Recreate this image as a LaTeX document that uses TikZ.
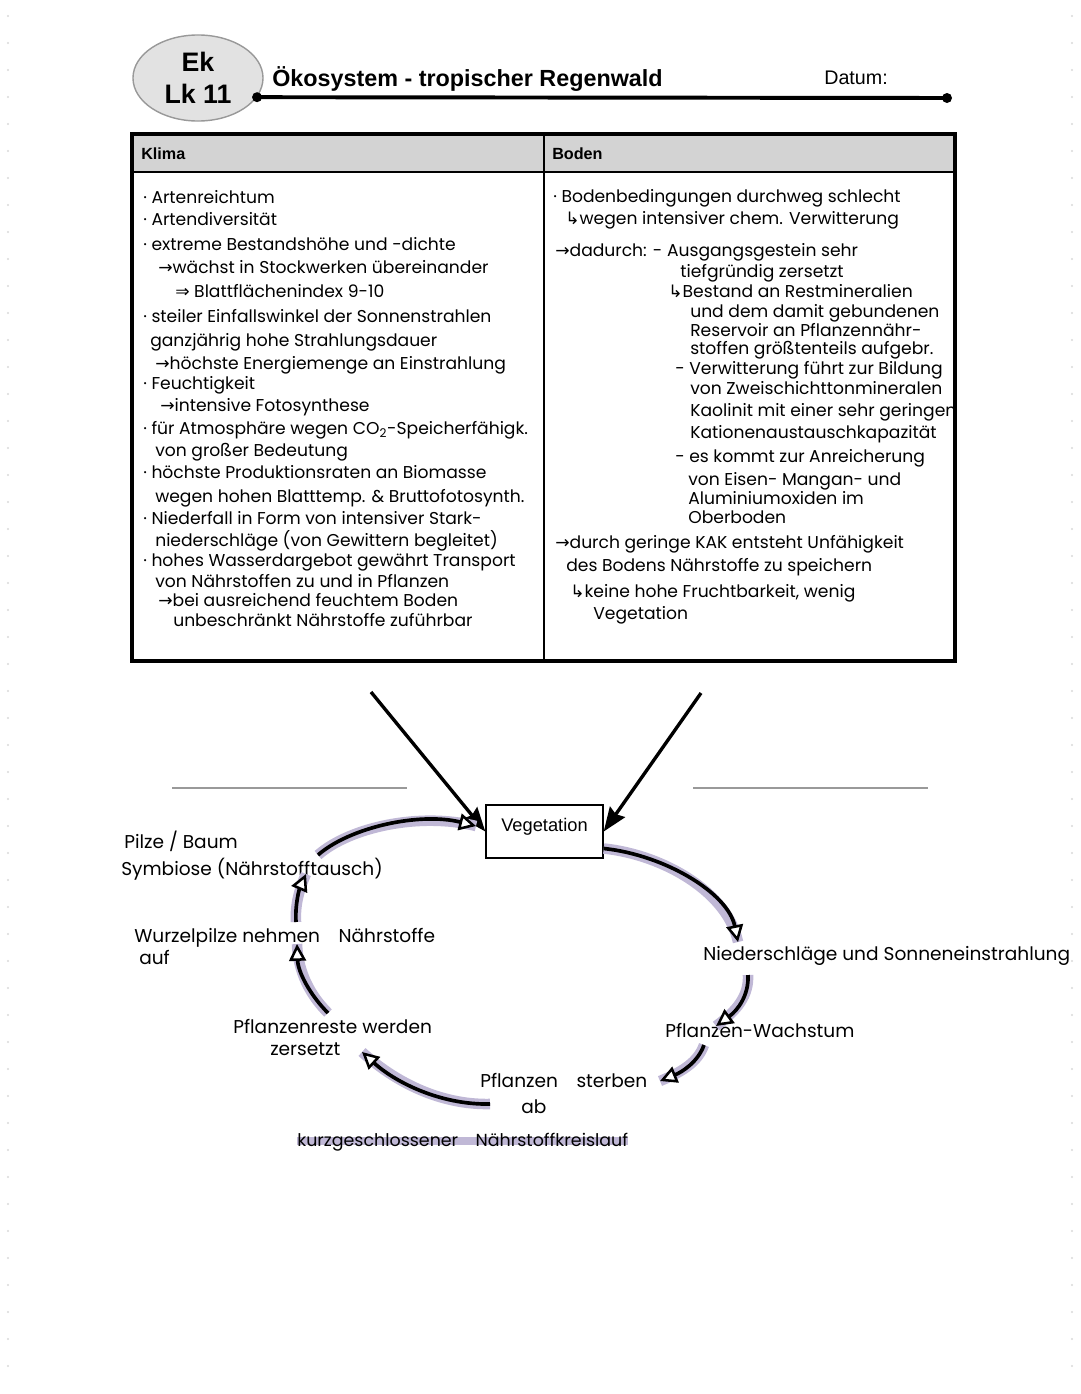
\documentclass[tikz,border=0pt]{standalone}
\usepackage{fontspec}
\setmainfont{Liberation Sans}
\newfontfamily\handfont{Poppins}
\newfontfamily\symfont{DejaVu Sans}
\usetikzlibrary{arrows.meta,shapes.geometric,backgrounds}
\newcommand{\pfeil}{{\symfont →}}
\newcommand{\haken}{{\symfont ↳}}
\newcommand{\folgt}{{\symfont ⇒}}
\definecolor{glowc}{RGB}{192,184,214}
\definecolor{kopfgrau}{RGB}{226,226,226}
\definecolor{tabgrau}{RGB}{211,211,211}
\begin{document}
\begin{tikzpicture}[x=0.025cm,y=-0.025cm,
  hand/.style={anchor=base west,inner sep=0pt,font=\handfont\fontsize{12.2}{14}\selectfont},
  zyklus/.style={anchor=base west,inner sep=0pt,font=\handfont\fontsize{13.2}{15}\selectfont},
  kreispfeil/.style={line width=2.6pt,-{Triangle[length=12pt,width=12pt,fill=white,line width=1.8pt]},preaction={draw=glowc,line width=7.5pt,-}},
  zufluss/.style={line width=2.4pt,-{Stealth[length=17pt,width=13pt,inset=2pt]}},
  leer/.style={draw=gray!80,line width=1pt}]
\useasboundingbox (0,0) rectangle (1080,1394);
\foreach \y in {16,43,...,1380} {\fill[gray!30] (8,\y) circle (1.2); \fill[gray!30] (1072,\y) circle (1.2);}

\node[ellipse,draw=gray!80,line width=1pt,fill=kopfgrau,minimum width=3.25cm,minimum height=2.15cm,inner sep=0pt,align=center,font=\bfseries\fontsize{19}{23}\selectfont] (kurs) at (198,78) {Ek\\Lk 11};
\node[anchor=base west,inner sep=0pt,font=\bfseries\fontsize{16.6}{19}\selectfont] (titel) at (272,86) {Ökosystem - tropischer Regenwald};
\node[anchor=base west,inner sep=0pt,font=\fontsize{14}{16}\selectfont] (datum) at (824,84) {Datum:};
\coordinate (linienende) at (947,98);
\draw[line width=2.8pt] (kurs.-18) -- (linienende);
\fill (kurs.-18) circle (5); \fill (linienende) circle (5);

\fill[tabgrau] (132,134) rectangle (955,172);
\draw[line width=1.5pt] (132,172) -- (955,172);
\draw[line width=2pt] (544,134) -- (544,661);
\draw[line width=2.2pt] (132,134) rectangle (955,661);
\node[anchor=west,inner sep=0pt,font=\bfseries\fontsize{11.5}{13}\selectfont] (klima) at (141,154) {Klima};
\node[anchor=west,inner sep=0pt,font=\bfseries\fontsize{11.5}{13}\selectfont] (boden) at (552,154) {Boden};

\foreach \x/\y/\t [count=\i] in {
  143/203/{· Artenreichtum},
  143/225/{· Artendiversität},
  143/250/{· extreme Bestandshöhe und -dichte},
  158/273/{\pfeil wächst in Stockwerken übereinander},
  175/297/{\folgt\ Blattflächenindex 9-10},
  143/322/{· steiler Einfallswinkel der Sonnenstrahlen},
  150/346/{ganzjährig hohe Strahlungsdauer},
  155/369/{\pfeil höchste Energiemenge an Einstrahlung},
  143/389/{· Feuchtigkeit},
  160/411/{\pfeil intensive Fotosynthese},
  143/434/{· für Atmosphäre wegen CO\textsubscript{2}-Speicherfähigk.},
  155/456/{von großer Bedeutung},
  143/478/{· höchste Produktionsraten an Biomasse},
  155/502/{wegen hohen Blatttemp. \& Bruttofotosynth.},
  143/524/{· Niederfall in Form von intensiver Stark-},
  155/546/{niederschläge (von Gewittern begleitet)},
  143/566/{· hohes Wasserdargebot gewährt Transport},
  155/587/{von Nährstoffen zu und in Pflanzen},
  158/606/{\pfeil bei ausreichend feuchtem Boden},
  173/626/{unbeschränkt Nährstoffe zuführbar}}
  \node[hand] (kl\i) at (\x,\y) {\t};

\foreach \x/\y/\t [count=\i] in {
  553/202/{· Bodenbedingungen durchweg schlecht},
  565/224/{\haken wegen intensiver chem. Verwitterung},
  555/256/{\pfeil dadurch: - Ausgangsgestein sehr},
  680/277/{tiefgründig zersetzt},
  668/297/{\haken Bestand an Restmineralien},
  690/317/{und dem damit gebundenen},
  690/336/{Reservoir an Pflanzennähr-},
  690/354/{stoffen größtenteils aufgebr.},
  675/374/{- Verwitterung führt zur Bildung},
  690/394/{von Zweischichttonmineralen},
  690/416/{Kaolinit mit einer sehr geringen},
  690/438/{Kationenaustauschkapazität},
  675/462/{- es kommt zur Anreicherung},
  688/485/{von Eisen- Mangan- und},
  688/504/{Aluminiumoxiden im},
  688/523/{Oberboden},
  555/548/{\pfeil durch geringe KAK entsteht Unfähigkeit},
  566/571/{des Bodens Nährstoffe zu speichern},
  570/597/{\haken keine hohe Fruchtbarkeit, wenig},
  593/619/{Vegetation}}
  \node[hand] (bo\i) at (\x,\y) {\t};

\node[draw,line width=1pt,minimum width=2.925cm,minimum height=1.325cm,text height=0.4cm,text depth=0.4cm,font=\fontsize{13}{15}\selectfont] (veg) at (544.5,831.5) {Vegetation};
\coordinate (quelleL) at (371,692);
\coordinate (quelleR) at (701,693);
\draw[zufluss] (quelleL) -- (veg.west);
\draw[zufluss] (quelleR) -- (veg.east);
\coordinate (leerLa) at (172,788); \coordinate (leerLb) at (407,788);
\coordinate (leerRa) at (693,788); \coordinate (leerRb) at (928,788);
\draw[leer] (leerLa) -- (leerLb);
\draw[leer] (leerRa) -- (leerRb);

\node[zyklus] (pilz) at (124,848) {Pilze / Baum};
\node[zyklus] (symb) at (121,875) {Symbiose (Nährstofftausch)};
\node[zyklus] (wurzel) at (134,942) {Wurzelpilze nehmen\quad Nährstoffe};
\node[zyklus] (auf) at (139,964) {auf};
\node[zyklus] (reste) at (233,1033) {Pflanzenreste werden};
\node[zyklus] (zers) at (270,1055) {zersetzt};
\node[zyklus] (sterb) at (480,1087) {Pflanzen\quad sterben};
\node[zyklus] (ab) at (521,1113) {ab};
\node[zyklus] (nied) at (703,960) {Niederschläge und Sonneneinstrahlung};
\node[zyklus] (wachs) at (665,1037) {Pflanzen-Wachstum};
\node[zyklus,font=\handfont\fontsize{12.4}{14}\selectfont] (kreis) at (297,1146) {kurzgeschlossener\quad Nährstoffkreislauf};
\begin{scope}[on background layer]
\fill[glowc] ([yshift=1pt]kreis.base west) rectangle ([yshift=6.5pt]kreis.base east);
\end{scope}

\coordinate (k1a) at (318,855); \coordinate (k1b) at (476,826);
\coordinate (k2b) at (738,942);
\coordinate (k3a) at (748,975); \coordinate (k3b) at (716,1026);
\coordinate (k4a) at (704,1045); \coordinate (k4b) at (660,1081);
\coordinate (k5a) at (490,1104); \coordinate (k5b) at (362,1052);
\coordinate (k6a) at (328,1013); \coordinate (k6b) at (297,944);
\coordinate (k7a) at (296,922); \coordinate (k7b) at (306,874);
\draw[kreispfeil] (k1a) .. controls (350,827) and (420,812) .. (k1b);
\draw[kreispfeil] (veg.-16) .. controls (665,855) and (728,893) .. (k2b);
\draw[kreispfeil] (k3a) .. controls (749,995) and (738,1010) .. (k3b);
\draw[kreispfeil] (k4a) .. controls (698,1062) and (682,1072) .. (k4b);
\draw[kreispfeil] (k5a) .. controls (440,1105) and (395,1082) .. (k5b);
\draw[kreispfeil] (k6a) .. controls (310,995) and (298,972) .. (k6b);
\draw[kreispfeil] (k7a) .. controls (295,905) and (299,890) .. (k7b);
\end{tikzpicture}
\end{document}
